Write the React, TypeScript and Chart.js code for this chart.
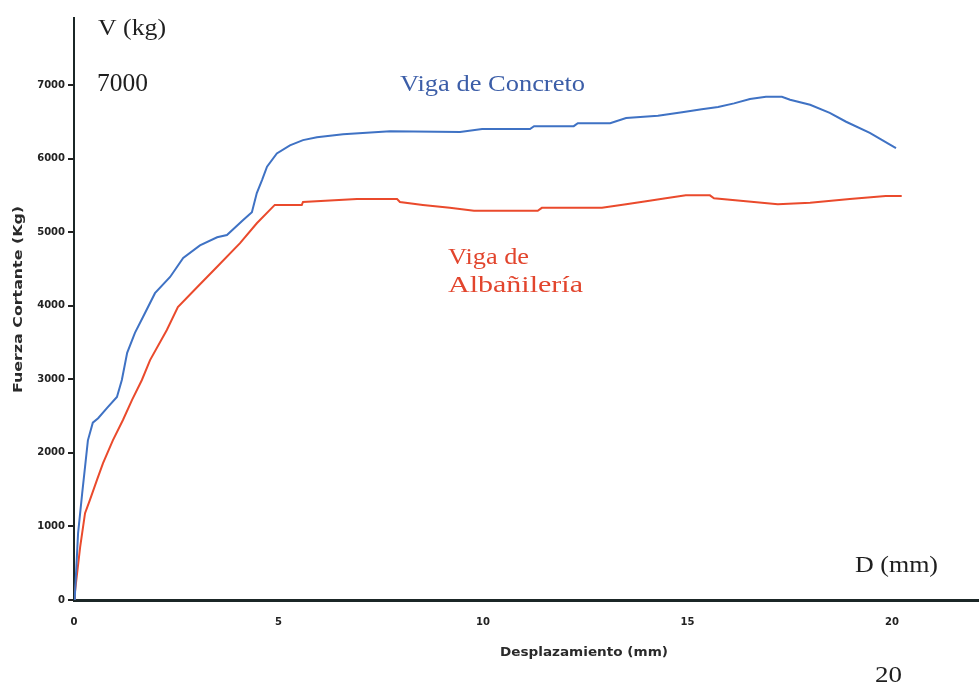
import React, { useEffect, useRef } from "react";
import { Chart, registerables } from "chart.js";

Chart.register(...registerables);

// Viga de Concreto (blue)
const concretoX = [0, 0.02, 0.10, 0.20, 0.27, 0.34, 0.46, 0.59, 0.81, 1.05, 1.17, 1.30, 1.49, 1.69, 1.98, 2.35, 2.67, 3.08, 3.50, 3.74, 4.13, 4.35, 4.47, 4.60, 4.72, 4.96, 5.28, 5.60, 5.94, 6.58, 7.73, 9.44, 9.98, 11.15, 11.25, 12.22, 12.32, 13.11, 13.50, 14.28, 14.87, 15.35, 15.75, 16.14, 16.53, 16.92, 17.31, 17.51, 18.0, 18.48, 18.88, 19.46, 20.1];
const concretoV = [0, 40, 910, 1450, 1810, 2170, 2410, 2470, 2610, 2760, 2990, 3360, 3630, 3850, 4170, 4390, 4650, 4820, 4930, 4960, 5160, 5270, 5530, 5710, 5890, 6070, 6180, 6250, 6290, 6330, 6370, 6360, 6400, 6400, 6440, 6440, 6480, 6480, 6550, 6580, 6630, 6670, 6700, 6750, 6810, 6840, 6840, 6800, 6730, 6620, 6500, 6350, 6140];

// Viga de Albañilería (red)
const albX = [0, 0.02, 0.15, 0.27, 0.39, 0.56, 0.71, 0.95, 1.20, 1.42, 1.66, 1.86, 2.27, 2.54, 3.01, 3.50, 4.06, 4.47, 4.91, 5.57, 5.60, 6.92, 7.90, 7.97, 8.53, 9.19, 9.78, 11.34, 11.44, 12.91, 13.50, 13.99, 14.47, 14.96, 15.55, 15.65, 16.43, 17.21, 18.0, 18.97, 19.85, 20.24];
const albV = [0, 95, 720, 1180, 1360, 1630, 1860, 2170, 2450, 2720, 2990, 3260, 3670, 3980, 4250, 4530, 4850, 5120, 5370, 5370, 5410, 5450, 5450, 5410, 5370, 5330, 5290, 5290, 5330, 5330, 5380, 5420, 5460, 5500, 5500, 5460, 5420, 5380, 5400, 5450, 5490, 5490];

const xTicks = [0, 5, 10, 15, 20];
const yTicks = [0, 1000, 2000, 3000, 4000, 5000, 6000, 7000];

const xTitle = "Desplazamiento (mm)";
const yTitle = "Fuerza Cortante (Kg)";

const SERIF = "'Liberation Serif', 'DejaVu Serif', serif";

function fitText(ctx: CanvasRenderingContext2D, text: string, x: number, y: number, width: number, font: string, color: string) {
  ctx.save();
  ctx.font = font;
  ctx.fillStyle = color;
  ctx.textBaseline = "alphabetic";
  ctx.textAlign = "left";
  const w = ctx.measureText(text).width;
  ctx.translate(x, y);
  ctx.scale(width / w, 1);
  ctx.fillText(text, 0, 0);
  ctx.restore();
}

const annotations = {
  id: "annotations",
  afterDraw(chart: any) {
    const ctx = chart.ctx as CanvasRenderingContext2D;
    fitText(ctx, "V (kg)", 98, 35, 68, `23px ${SERIF}`, "#1f1f1f");
    fitText(ctx, "7000", 97, 91, 51, `25px ${SERIF}`, "#1f1f1f");
    fitText(ctx, "Viga de Concreto", 400, 91, 185, `24px ${SERIF}`, "#3c5ea8");
    fitText(ctx, "Viga de", 448, 264, 81, `24px ${SERIF}`, "#e2452d");
    fitText(ctx, "Albañilería", 448, 292, 135, `24px ${SERIF}`, "#e2452d");
    fitText(ctx, "D (mm)", 855, 572, 83, `23px ${SERIF}`, "#1f1f1f");
    fitText(ctx, "20", 875, 682, 27, `23px ${SERIF}`, "#1f1f1f");

    // axis titles
    fitText(ctx, xTitle, 500, 656, 168, `bold 12px 'DejaVu Sans', sans-serif`, "#2a2a2a");
    ctx.save();
    ctx.translate(22, 393);
    ctx.rotate(-Math.PI / 2);
    fitText(ctx, yTitle, 0, 0, 187, `bold 12px 'DejaVu Sans', sans-serif`, "#2a2a2a");
    ctx.restore();
  },
};

export default function App() {
  const ref = useRef<HTMLCanvasElement | null>(null);
  useEffect(() => {
    if (!ref.current) return;
    const chart = new Chart(ref.current, {
      type: "line",
      data: {
        datasets: [
          {
            label: "Viga de Concreto",
            data: concretoX.map((x, i) => ({ x, y: concretoV[i] })),
            borderColor: "#3f72c4",
            borderWidth: 2,
            pointRadius: 0,
            tension: 0,
            fill: false,
          },
          {
            label: "Viga de Albañilería",
            data: albX.map((x, i) => ({ x, y: albV[i] })),
            borderColor: "#ea4a2c",
            borderWidth: 2,
            pointRadius: 0,
            tension: 0,
            fill: false,
          },
        ],
      },
      options: {
        animation: false,
        responsive: false,
        maintainAspectRatio: false,
        layout: { padding: { top: 18, left: 0, right: 0, bottom: 0 } },
        plugins: {
          legend: { display: false },
          tooltip: { enabled: false },
          title: { display: false },
        },
        scales: {
          x: {
            type: "linear",
            min: 0,
            max: 22.13,
            afterBuildTicks: (scale: any) => {
              scale.ticks = xTicks.map((v) => ({ value: v }));
            },
            afterFit: (scale: any) => {
              scale.height = 87;
            },
            grid: { drawOnChartArea: false, drawTicks: false },
            border: { display: true, color: "#1b2626", width: 3 },
            ticks: {
              padding: 16,
              color: "#222",
              font: { family: "'DejaVu Sans', sans-serif", size: 10, weight: "bold" },
              maxRotation: 0,
              autoSkip: false,
            },
          },
          y: {
            type: "linear",
            min: 0,
            max: 7910,
            afterBuildTicks: (scale: any) => {
              scale.ticks = yTicks.map((v) => ({ value: v }));
            },
            afterFit: (scale: any) => {
              scale.width = 74;
            },
            grid: { drawOnChartArea: false, drawTicks: true, tickLength: 6, color: "#222", lineWidth: 2 },
            border: { display: true, color: "#1b2626", width: 2 },
            ticks: {
              padding: 3,
              color: "#222",
              font: { family: "'DejaVu Sans', sans-serif", size: 10, weight: "bold" },
              autoSkip: false,
              callback: (v: any) => String(v),
            },
          },
        },
      },
      plugins: [annotations],
    });
    return () => chart.destroy();
  }, []);
  return (
    <div style={{ position: "fixed", left: 0, top: 0, width: 979, height: 687, background: "#fff" }}>
      <canvas ref={ref} width={979} height={687} style={{ display: "block", width: 979, height: 687 }} />
    </div>
  );
}
